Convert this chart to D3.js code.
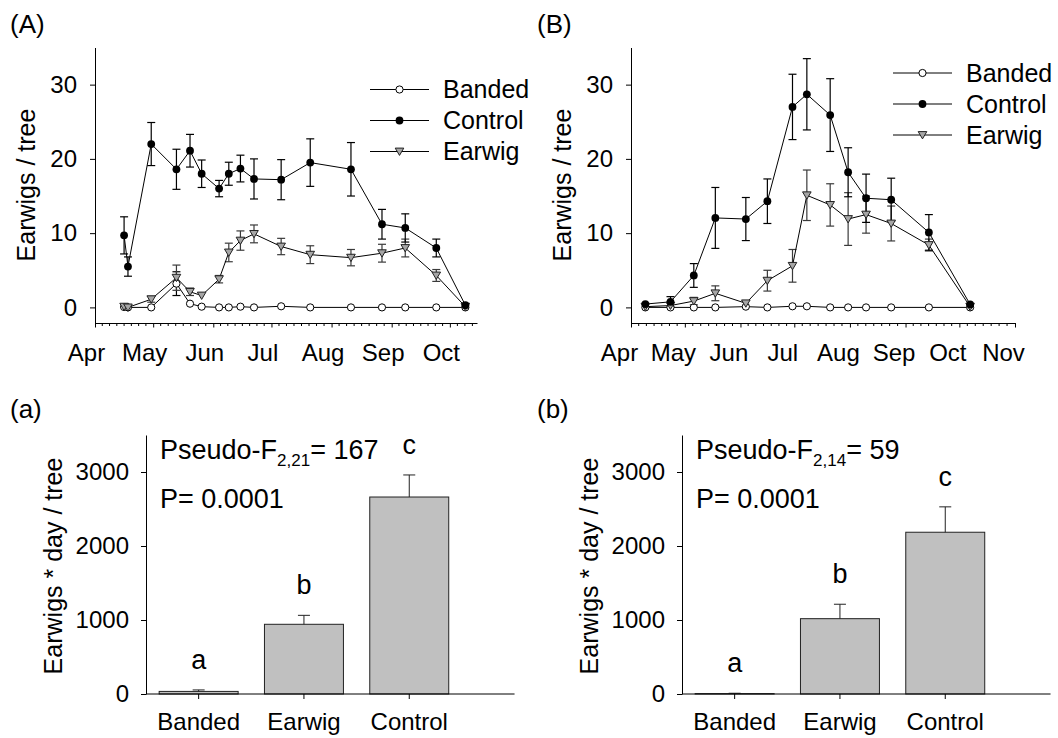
<!DOCTYPE html>
<html><head><meta charset="utf-8">
<script src="https://cdn.jsdelivr.net/npm/d3@7"></script>
<style>
html,body{margin:0;padding:0;background:#fff;}
text{font-family:"Liberation Sans",Arial,sans-serif;fill:#000;}
</style></head>
<body>
<svg id="c" width="1058" height="738"></svg>
<script>
// ---------- DATA ----------
const seriesNames = ["Banded", "Control", "Earwig"];

// Panel A
const datesA = ["2009-04-16","2009-04-18","2009-04-30","2009-05-13","2009-05-20","2009-05-26","2009-06-04","2009-06-09","2009-06-15","2009-06-22","2009-07-06","2009-07-21","2009-08-11","2009-08-27","2009-09-08","2009-09-24","2009-10-09"];
const bandedA    = [0.05, 0.0, 0.0, 3.2, 0.5, 0.1, 0.0, 0.0, 0.1, 0.0, 0.15, 0.0, 0.0, 0.0, 0.0, 0.0, 0.0];
const bandedAErr = [0.1, 0, 0, 1.6, 0.2, 0.1, 0, 0, 0.1, 0, 0.1, 0, 0, 0, 0, 0, 0];
const controlA    = [9.7, 5.5, 22.0, 18.6, 21.1, 18.0, 16.0, 18.0, 18.7, 17.3, 17.2, 19.5, 18.6, 11.2, 10.7, 8.0, 0.3];
const controlAErr = [2.5, 1.3, 2.9, 2.7, 2.2, 1.85, 1.1, 1.55, 1.8, 2.7, 2.7, 3.2, 3.6, 2.0, 1.9, 1.2, 0.2];
const earwigA    = [0.1, 0.0, 1.1, 4.0, 2.1, 1.6, 3.8, 7.4, 9.0, 9.9, 8.2, 7.1, 6.7, 7.3, 8.0, 4.3, 0.1];
const earwigAErr = [0.2, 0.1, 0.4, 1.7, 0.5, 0.3, 0.5, 1.25, 1.3, 1.2, 1.1, 1.2, 1.1, 1.2, 1.2, 0.8, 0.1];

// Panel B
const datesB = ["2009-04-09","2009-04-23","2009-05-06","2009-05-18","2009-06-04","2009-06-16","2009-06-30","2009-07-08","2009-07-21","2009-07-31","2009-08-10","2009-08-24","2009-09-14","2009-10-07"];
const bandedB    = [0, 0, 0, 0, 0.1, 0, 0.15, 0.15, 0, 0, 0, 0, 0, 0];
const bandedBErr = [0, 0, 0, 0, 0.1, 0, 0.1, 0.1, 0, 0, 0, 0, 0, 0];
const controlB    = [0.45, 0.75, 4.3, 12.05, 11.9, 14.3, 27.0, 28.7, 25.9, 18.2, 14.7, 14.5, 10.1, 0.4];
const controlBErr = [0.2, 0.7, 1.6, 4.1, 2.9, 3.0, 4.4, 4.8, 4.9, 3.3, 3.25, 2.9, 2.4, 0.2];
const earwigB    = [0.1, 0.25, 0.85, 1.9, 0.55, 3.6, 5.6, 15.1, 13.8, 11.9, 12.5, 11.3, 8.4, 0.1];
const earwigBErr = [0.1, 0.2, 0.5, 1.0, 0.3, 1.4, 2.2, 3.4, 2.85, 3.55, 2.5, 2.35, 0.8, 0.1];

const yTicksTop = [0, 10, 20, 30];

// Bar panels
const barCats = ["Banded", "Earwig", "Control"];
const barsA    = [35, 942, 2662];
const barsAErr = [20, 121, 298];
const lettersA = ["a", "b", "c"];
const barsB    = [5, 1018, 2186];
const barsBErr = [5, 195, 343];
const lettersB = ["a", "b", "c"];
const yTicksBar = [0, 1000, 2000, 3000];
const statsA = {pre: "Pseudo-F", sub: "2,21", post: "= 167", p: "P= 0.0001"};
const statsB = {pre: "Pseudo-F", sub: "2,14", post: "= 59", p: "P= 0.0001"};

// ---------- DRAW ----------
const svg = d3.select("#c");
const parse = d3.utcParse("%Y-%m-%d");
const FS = 24;

function tri(g, x, y) {
  g.append("path")
    .attr("d", `M${x-4.3},${y-3.4}L${x+4.3},${y-3.4}L${x},${y+3.9}Z`)
    .attr("fill", "#a6a6a6").attr("stroke", "#222").attr("stroke-width", 1);
}
function marker(g, name, x, y) {
  if (name === "Banded") g.append("circle").attr("cx", x).attr("cy", y).attr("r", 3.6).attr("fill", "#fff").attr("stroke", "#000").attr("stroke-width", 1);
  else if (name === "Control") g.append("circle").attr("cx", x).attr("cy", y).attr("r", 3.9).attr("fill", "#000");
  else tri(g, x, y);
}

function timePanel(o) {
  const g = svg.append("g");
  const x = d3.scaleUtc().domain([parse(o.start), parse(o.end)]).range([o.x0, o.x1]);
  const y = d3.scaleLinear().domain([-2.1, 35]).range([323, 47.5]);

  // y axis
  const ya = g.append("g").attr("transform", `translate(${o.x0},0)`)
    .call(d3.axisLeft(y).tickValues(yTicksTop).tickSize(5).tickPadding(13).tickSizeOuter(0));
  ya.select(".domain").attr("stroke", "#000");
  ya.selectAll("text").style("font-size", FS + "px").style("font-family", "Liberation Sans, Arial, sans-serif");

  // x axis: major monthly ticks
  const months = d3.utcMonth.range(parse(o.start), d3.utcDay.offset(parse(o.end), 1));
  const xa = g.append("g").attr("transform", `translate(0,323)`)
    .call(d3.axisBottom(x).tickValues(months).tickFormat(d3.utcFormat("%b")).tickSize(4.5).tickPadding(16).tickSizeOuter(0));
  xa.select(".domain").attr("stroke", "#000");
  xa.selectAll("text").style("font-size", FS + "px").style("font-family", "Liberation Sans, Arial, sans-serif").attr("dx", o.labelDx);
  // minor ticks
  const minor = [];
  months.forEach(m => {
    const nx = d3.utcMonth.offset(m, 1);
    for (let k = 1; k < o.div; k++) {
      const t = new Date(+m + (nx - m) * k / o.div);
      if (t <= parse(o.end)) minor.push(t);
    }
  });
  g.append("g").selectAll("line").data(minor).join("line")
    .attr("x1", d => x(d)).attr("x2", d => x(d)).attr("y1", 323).attr("y2", 326)
    .attr("stroke", "#000");

  // y title
  g.append("text").attr("transform", `translate(${o.titleX},185) rotate(-90)`)
    .attr("text-anchor", "middle").attr("dy", "0.35em").style("font-size", "25px").text("Earwigs / tree");
  // panel label
  g.append("text").attr("x", o.labelX).attr("y", 33).style("font-size", "26px").text(o.label);

  const dates = o.dates.map(parse);
  const series = [
    {name: "Banded", v: o.banded, e: o.bandedErr, ec: "#000"},
    {name: "Earwig", v: o.earwig, e: o.earwigErr, ec: "#3a3a3a"},
    {name: "Control", v: o.control, e: o.controlErr, ec: "#000"}
  ];
  // error bars
  series.forEach(s => {
    const eg = g.append("g").attr("stroke", s.ec).attr("stroke-width", 1.2);
    s.v.forEach((v, i) => {
      const e = s.e[i];
      if (e < 0.35) return;
      const cx = x(dates[i]);
      eg.append("line").attr("x1", cx).attr("x2", cx).attr("y1", y(v - e)).attr("y2", y(v + e));
      [v - e, v + e].forEach(t => eg.append("line").attr("x1", cx - 4).attr("x2", cx + 4).attr("y1", y(t)).attr("y2", y(t)));
    });
  });
  // lines
  const line = d3.line().x((d, i) => x(dates[i])).y(d => y(d));
  series.forEach(s => {
    g.append("path").datum(s.v).attr("d", line).attr("fill", "none").attr("stroke", "#000").attr("stroke-width", 1);
  });
  // markers
  series.forEach(s => {
    const mg = g.append("g");
    s.v.forEach((v, i) => marker(mg, s.name, x(dates[i]), y(v)));
  });

  // legend
  const lg = g.append("g");
  seriesNames.forEach((n, i) => {
    const ly = o.legY + i * 31;
    lg.append("line").attr("x1", o.legX).attr("x2", o.legX + 59).attr("y1", ly).attr("y2", ly)
      .attr("stroke", (o.grayControlLegend && n === "Control") ? "#555" : "#000").attr("stroke-width", (o.grayControlLegend && n === "Control") ? 1.5 : 1);
    marker(lg, n, o.legX + 29.5, ly);
    lg.append("text").attr("x", o.legX + 73).attr("y", ly).attr("dy", "0.35em").style("font-size", "25px").text(n);
  });
}

timePanel({start: "2009-04-01", end: "2009-10-15", x0: 95, x1: 477, div: 8, labelDx: -9,
  dates: datesA, banded: bandedA, bandedErr: bandedAErr, control: controlA, controlErr: controlAErr,
  earwig: earwigA, earwigErr: earwigAErr, titleX: 26, labelX: 10, label: "(A)", legX: 370, legY: 89.5});
timePanel({start: "2009-04-01", end: "2009-11-01", x0: 631, x1: 1015, div: 7, labelDx: -12,
  dates: datesB, banded: bandedB, bandedErr: bandedBErr, control: controlB, controlErr: controlBErr,
  earwig: earwigB, earwigErr: earwigBErr, titleX: 562, labelX: 537, label: "(B)", legX: 893, legY: 73, grayControlLegend: true});

function barPanel(o) {
  const g = svg.append("g");
  const step = 105.3;
  const x = d3.scaleBand().domain(barCats).range([o.x0, o.x0 + 3 * step]).paddingInner(0.25).paddingOuter(0.125);
  const y = d3.scaleLinear().domain([0, 3500]).range([694, 435]);

  const ya = g.append("g").attr("transform", `translate(${o.x0},0)`)
    .call(d3.axisLeft(y).tickValues(yTicksBar).tickFormat(d3.format("d")).tickSize(5).tickPadding(12).tickSizeOuter(0));
  ya.select(".domain").attr("stroke", "#000");
  ya.selectAll("text").style("font-size", FS + "px").style("font-family", "Liberation Sans, Arial, sans-serif");

  // bars
  g.selectAll("rect.bar").data(o.vals).join("rect").attr("class", "bar")
    .attr("x", (d, i) => x(barCats[i])).attr("width", x.bandwidth())
    .attr("y", d => y(d)).attr("height", d => 694 - y(d))
    .attr("fill", "#c0c0c0").attr("stroke", "#222").attr("stroke-width", 1);
  // error bars (upper)
  o.vals.forEach((v, i) => {
    const cx = x(barCats[i]) + x.bandwidth() / 2;
    const t = y(v + o.errs[i]);
    g.append("line").attr("x1", cx).attr("x2", cx).attr("y1", y(v)).attr("y2", t).attr("stroke", "#222");
    g.append("line").attr("x1", cx - 6).attr("x2", cx + 6).attr("y1", t).attr("y2", t).attr("stroke", "#222");
    g.append("text").attr("x", cx).attr("y", t - 21).attr("text-anchor", "middle").style("font-size", "27px").text(o.letters[i]);
  });

  // x axis
  const xa = g.append("g").attr("transform", "translate(0,694)")
    .call(d3.axisBottom(x).tickSize(5).tickPadding(14).tickSizeOuter(0));
  xa.select(".domain").attr("d", `M${o.x0},0H${o.x0 + 3.5 * step}`).attr("stroke", "#000");
  xa.selectAll("text").style("font-size", FS + "px").style("font-family", "Liberation Sans, Arial, sans-serif");

  // title and labels
  g.append("text").attr("transform", `translate(${o.x0 - 93},566) rotate(-90)`)
    .attr("text-anchor", "middle").attr("dy", "0.35em").style("font-size", "25px").text("Earwigs * day / tree");
  g.append("text").attr("x", o.labelX).attr("y", 418).style("font-size", "26px").text(o.label);

  const st = g.append("text").attr("x", o.x0 + 14).attr("y", 459).style("font-size", "27px");
  st.append("tspan").text(o.stats.pre);
  st.append("tspan").attr("dy", 7).style("font-size", "17px").text(o.stats.sub);
  st.append("tspan").attr("dy", -7).text(o.stats.post);
  g.append("text").attr("x", o.x0 + 14).attr("y", 508).style("font-size", "27px").text(o.stats.p);
}

barPanel({x0: 146, vals: barsA, errs: barsAErr, letters: lettersA, stats: statsA, labelX: 10, label: "(a)"});
barPanel({x0: 682, vals: barsB, errs: barsBErr, letters: lettersB, stats: statsB, labelX: 537, label: "(b)"});
</script>
</body></html>
